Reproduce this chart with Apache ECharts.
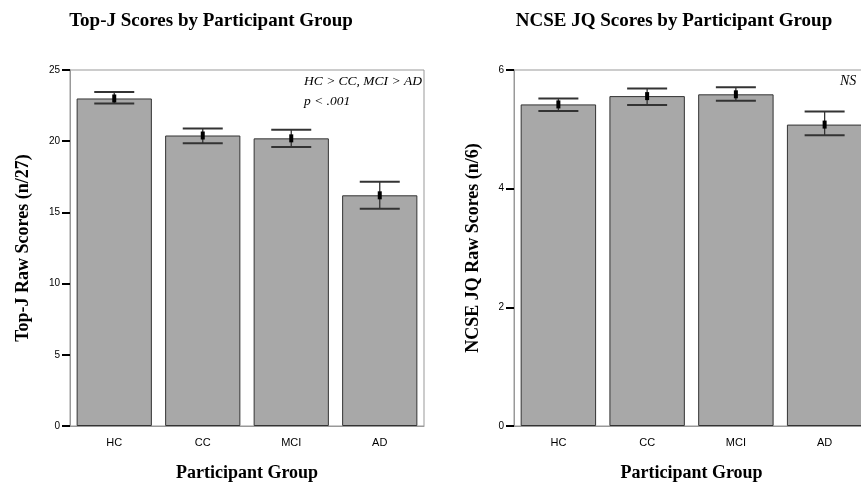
<!DOCTYPE html>
<html>
<head>
<meta charset="utf-8">
<script src="https://cdn.jsdelivr.net/npm/echarts@6/dist/echarts.min.js"></script>
<style>
html,body{margin:0;padding:0;overflow:hidden;background:#fff;}
#c{width:870px;height:489px;}
</style>
</head>
<body>
<div id="c"></div>
<script>
var categories = ['HC', 'CC', 'MCI', 'AD'];
var topjMeans = [23.0, 20.4, 20.2, 16.2];
var topjLower = [22.65, 19.85, 19.6, 15.25];
var topjUpper = [23.45, 20.9, 20.8, 17.15];
var ncseMeans = [5.42, 5.56, 5.59, 5.08];
var ncseLower = [5.31, 5.41, 5.48, 4.90];
var ncseUpper = [5.52, 5.69, 5.71, 5.30];
var topjTicks = [0, 5, 10, 15, 20, 25];
var ncseTicks = [0, 2, 4, 6];

var serif = '"Liberation Serif", "Times New Roman", serif';
var sans = '"Liberation Sans", Arial, sans-serif';

function errData(lo, hi, m) {
  return categories.map(function (c, i) { return [i, lo[i], hi[i], m[i]]; });
}

function renderErr(params, api) {
  var x = api.value(0);
  var lo = api.coord([x, api.value(1)]);
  var hi = api.coord([x, api.value(2)]);
  var mid = api.coord([x, api.value(3)]);
  var hw = 20;
  var st = { stroke: '#333', lineWidth: 1.3 };
  var cap = { stroke: '#333', lineWidth: 2 };
  return {
    type: 'group',
    children: [
      { type: 'line', shape: { x1: hi[0], y1: hi[1], x2: lo[0], y2: lo[1] }, style: st },
      { type: 'line', shape: { x1: hi[0] - hw, y1: hi[1], x2: hi[0] + hw, y2: hi[1] }, style: cap },
      { type: 'line', shape: { x1: lo[0] - hw, y1: lo[1], x2: lo[0] + hw, y2: lo[1] }, style: cap },
      { type: 'rect', shape: { x: mid[0] - 2, y: mid[1] - 4, width: 4, height: 8 }, style: { fill: '#000' } }
    ]
  };
}

function xAxisCfg(gi) {
  return {
    type: 'category', gridIndex: gi, data: categories,
    name: 'Participant Group', nameLocation: 'middle', nameGap: 38,
    nameTextStyle: { fontFamily: serif, fontWeight: 'bold', fontSize: 18, color: '#000' },
    axisLine: { lineStyle: { color: '#999', width: 1 } },
    axisTick: { alignWithLabel: true, length: 6, lineStyle: { color: '#000', width: 2 } },
    axisLabel: { fontFamily: sans, fontSize: 11, color: '#000', margin: 11 },
    splitLine: { show: false }
  };
}

function yAxisCfg(gi, max, interval, name, gap, ticks) {
  return {
    type: 'value', gridIndex: gi, min: 0, max: max, interval: interval,
    name: name, nameLocation: 'middle', nameGap: gap, nameRotate: 90,
    nameTextStyle: { fontFamily: serif, fontWeight: 'bold', fontSize: 18, color: '#000' },
    axisLine: { show: true, lineStyle: { color: '#999', width: 1 } },
    axisTick: { show: true, length: 8, lineStyle: { color: '#000', width: 2 } },
    axisLabel: { fontFamily: sans, fontSize: 10, color: '#000', margin: 10,
      formatter: function (v) { return ticks.indexOf(v) >= 0 ? String(v) : ''; } },
    splitLine: { show: false }
  };
}

var chart = echarts.init(document.getElementById('c'), null, { renderer: 'canvas' });
chart.setOption({
  animation: false,
  backgroundColor: '#fff',
  title: [
    { text: 'Top-J Scores by Participant Group', left: 206, top: 7, textAlign: 'center',
      textStyle: { fontFamily: serif, fontWeight: 'bold', fontSize: 19, color: '#000' } },
    { text: 'NCSE JQ Scores by Participant Group', left: 669, top: 7, textAlign: 'center',
      textStyle: { fontFamily: serif, fontWeight: 'bold', fontSize: 19, color: '#000' } }
  ],
  grid: [
    { left: 70, top: 70, width: 354, height: 356, show: true, borderColor: '#999', borderWidth: 1 },
    { left: 514, top: 70, width: 355, height: 356, show: true, borderColor: '#999', borderWidth: 1 }
  ],
  xAxis: [xAxisCfg(0), xAxisCfg(1)],
  yAxis: [
    yAxisCfg(0, 25, 5, 'Top-J Raw Scores (n/27)', 38, topjTicks),
    yAxisCfg(1, 6, 2, 'NCSE JQ Raw Scores (n/6)', 32, ncseTicks)
  ],
  graphic: [
    { type: 'text', left: 304, top: 74, style: { text: 'HC > CC, MCI > AD', font: 'italic 13.5px ' + serif, fill: '#000' } },
    { type: 'text', left: 304, top: 94, style: { text: 'p < .001', font: 'italic 13.5px ' + serif, fill: '#000' } },
    { type: 'text', left: 840, top: 74, style: { text: 'NS', font: 'italic 14px ' + serif, fill: '#000' } }
  ],
  series: [
    { type: 'bar', xAxisIndex: 0, yAxisIndex: 0, data: topjMeans, barWidth: '85%',
      itemStyle: { color: '#a8a8a8', borderColor: '#333', borderWidth: 1 } },
    { type: 'custom', xAxisIndex: 0, yAxisIndex: 0, data: errData(topjLower, topjUpper, topjMeans),
      renderItem: renderErr, z: 5 },
    { type: 'bar', xAxisIndex: 1, yAxisIndex: 1, data: ncseMeans, barWidth: '85%',
      itemStyle: { color: '#a8a8a8', borderColor: '#333', borderWidth: 1 } },
    { type: 'custom', xAxisIndex: 1, yAxisIndex: 1, data: errData(ncseLower, ncseUpper, ncseMeans),
      renderItem: renderErr, z: 5 }
  ]
});
</script>
</body>
</html>
